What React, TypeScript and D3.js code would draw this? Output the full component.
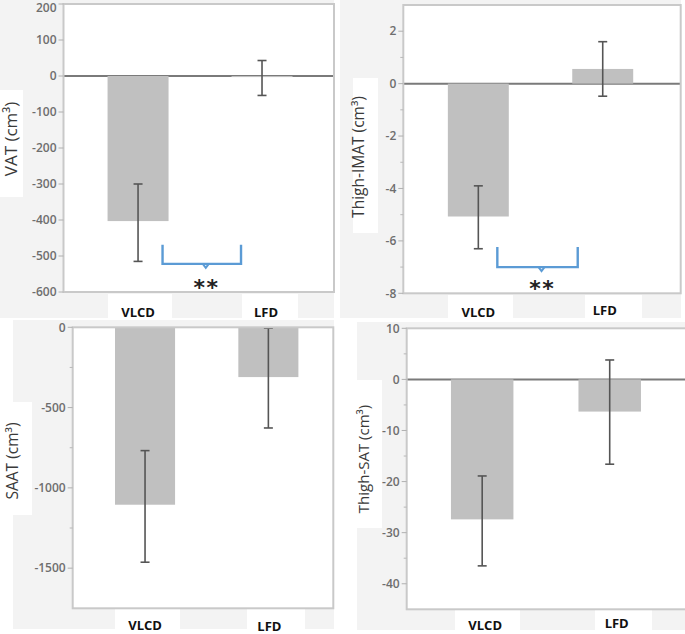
import React from "react";
import * as d3 from "d3";

const categories = ["VLCD", "LFD"];

const vatMean = [-403, -3];
const vatUpper = [-300, 43];
const vatLower = [-515, -54];
const vatTicks = [200, 100, 0, -100, -200, -300, -400, -500, -600];
const vatMinorTicks: number[] = [];

const imatMean = [-5.07, 0.56];
const imatUpper = [-3.9, 1.6];
const imatLower = [-6.3, -0.48];
const imatTicks = [2, 0, -2, -4, -6, -8];
const imatMinorTicks = [1, -1, -3, -5, -7];

const saatMean = [-1105, -310];
const saatUpper = [-768, -5];
const saatLower = [-1463, -627];
const saatTicks = [0, -500, -1000, -1500];
const saatMinorTicks = [-250, -750, -1250];

const tsatMean = [-27.4, -6.3];
const tsatUpper = [-18.9, 3.8];
const tsatLower = [-36.5, -16.6];
const tsatTicks = [10, 0, -10, -20, -30, -40];
const tsatMinorTicks = [5, -5, -15, -25, -35];

const sigLabel = "*";

type Box = { x: number; y: number; w: number; h: number };

interface PanelCfg {
  title: string;
  mean: number[];
  upper: number[];
  lower: number[];
  ticks: number[];
  minor: number[];
  domain: [number, number];
  bracket?: { top: number; bottom: number; dl: number; dr: number };
  L: {
    left: number; right: number; top: number; bottom: number;
    pi: number; po: number; align: number;
    titleX: number; titleY: number; titleSize: number;
    labelY: number[]; labelDx: number[];
    bg: Box; titleBox: Box; catBoxes: Box[];
  };
}

const panels: PanelCfg[] = [
  {
    title: "VAT (cm³)", mean: vatMean, upper: vatUpper, lower: vatLower,
    ticks: vatTicks, minor: vatMinorTicks, domain: [-600, 200],
    bracket: { top: -469, bottom: -522, dl: 24.5, dr: -21 },
    L: {
      left: 63.5, right: 334, top: 4, bottom: 292, pi: 0.508, po: 0.345, align: 0.515,
      titleX: 11.5, titleY: 139, titleSize: 17, labelY: [317, 317], labelDx: [0, 4],
      bg: { x: 0, y: 0, w: 334, h: 318 }, titleBox: { x: 0, y: 90, w: 23, h: 107 },
      catBoxes: [{ x: 108, y: 294, w: 64, h: 24 }, { x: 242, y: 294, w: 56, h: 24 }],
    },
  },
  {
    title: "Thigh-IMAT (cm³)", mean: imatMean, upper: imatUpper, lower: imatLower,
    ticks: imatTicks, minor: imatMinorTicks, domain: [-8, 3],
    bracket: { top: -6.23, bottom: -7.0, dl: 19, dr: -25 },
    L: {
      left: 403.3, right: 680.7, top: 5, bottom: 293.3, pi: 0.51, po: 0.37, align: 0.484,
      titleX: 359, titleY: 157, titleSize: 15.5, labelY: [317, 315], labelDx: [0, 2],
      bg: { x: 340, y: 0, w: 341, h: 318 }, titleBox: { x: 353, y: 78, w: 25, h: 155 },
      catBoxes: [{ x: 448, y: 295, w: 65, h: 23 }, { x: 585, y: 295, w: 57, h: 23 }],
    },
  },
  {
    title: "SAAT (cm³)", mean: saatMean, upper: saatUpper, lower: saatLower,
    ticks: saatTicks, minor: saatMinorTicks, domain: [-1750, 0],
    L: {
      left: 72.7, right: 333.3, top: 327.3, bottom: 608.3, pi: 0.513, po: 0.313, align: 0.548,
      titleX: 13, titleY: 461, titleSize: 15.5, labelY: [630, 631], labelDx: [0, 1],
      bg: { x: 13, y: 320, w: 321, h: 309 }, titleBox: { x: 0, y: 402, w: 32, h: 113 },
      catBoxes: [{ x: 115, y: 609, w: 65, h: 20 }, { x: 247, y: 609, w: 58, h: 20 }],
    },
  },
  {
    title: "Thigh-SAT (cm³)", mean: tsatMean, upper: tsatUpper, lower: tsatLower,
    ticks: tsatTicks, minor: tsatMinorTicks, domain: [-45, 10],
    L: {
      left: 406.7, right: 687, top: 328.3, bottom: 609.3, pi: 0.51, po: 0.354, align: 0.49,
      titleX: 363.5, titleY: 459, titleSize: 15, labelY: [630, 628], labelDx: [3, 7],
      bg: { x: 357, y: 322, w: 330, h: 308 }, titleBox: { x: 343, y: 380, w: 39, h: 148 },
      catBoxes: [{ x: 455, y: 610, w: 65, h: 20 }, { x: 595, y: 610, w: 57, h: 20 }],
    },
  },
];

const GRAY_BG = "#f3f3f3";
const FRAME = "#c9c9c9";
const BAR = "#c0c0c0";
const ERR = "#555555";
const ZERO = "#7a7a7a";
const BLUE = "#5b9bd5";
const TICK_TXT = "#6e6e6e";

function Panel({ p }: { p: PanelCfg }) {
  const L = p.L;
  const x = d3.scaleBand<string>()
    .domain(categories)
    .range([L.left, L.right])
    .paddingInner(L.pi)
    .paddingOuter(L.po)
    .align(L.align);
  const y = d3.scaleLinear().domain(p.domain).range([L.bottom, L.top]);
  const bw = x.bandwidth();
  const cx = (c: string) => (x(c) as number) + bw / 2;
  const capW = 9;

  let bracket: React.ReactNode = null;
  if (p.bracket) {
    const bl = cx(categories[0]) + p.bracket.dl;
    const br = cx(categories[1]) + p.bracket.dr;
    const yt = y(p.bracket.top);
    const yb = y(p.bracket.bottom);
    const mid = (bl + br) / 2 + 4;
    bracket = (
      <g>
        <path d={`M${bl},${yt}V${yb}H${br}V${yt}`} fill="none" stroke={BLUE} strokeWidth={2.4} />
        <path d={`M${mid - 3},${yb}L${mid},${yb + 4}L${mid + 3},${yb}`} fill="none" stroke={BLUE} strokeWidth={2} />
        {[-6.5, 6.5].map((d, i) => (
          <text key={i} x={mid + d} y={L.bottom + 2.5} textAnchor="middle" fontFamily="DejaVu Sans" fontWeight="bold" fontSize={22} fill="#222">
            {sigLabel}
          </text>
        ))}
      </g>
    );
  }

  return (
    <g>
      <rect x={L.bg.x} y={L.bg.y} width={L.bg.w} height={L.bg.h} fill={GRAY_BG} />
      <rect x={L.titleBox.x} y={L.titleBox.y} width={L.titleBox.w} height={L.titleBox.h} fill="#ffffff" />
      {L.catBoxes.map((b, i) => (
        <rect key={i} x={b.x} y={b.y} width={b.w} height={b.h} fill="#ffffff" />
      ))}
      <rect x={L.left} y={L.top} width={L.right - L.left} height={L.bottom - L.top} fill="#ffffff" />
      {p.domain[1] > 0 && (
        <line x1={L.left} x2={L.right} y1={y(0)} y2={y(0)} stroke={ZERO} strokeWidth={2} />
      )}
      {categories.map((c, i) => {
        const v = p.mean[i];
        const y0 = y(0);
        const y1 = y(v);
        return (
          <rect key={c} x={x(c)} y={Math.min(y0, y1)} width={bw} height={Math.max(1, Math.abs(y1 - y0))} fill={BAR} />
        );
      })}
      {categories.map((c, i) => {
        const xc = cx(c);
        const yu = y(p.upper[i]);
        const yl = y(p.lower[i]);
        return (
          <g key={c} stroke={ERR} strokeWidth={1.6}>
            <line x1={xc} x2={xc} y1={yu} y2={yl} />
            <line x1={xc - capW / 2} x2={xc + capW / 2} y1={yu} y2={yu} />
            <line x1={xc - capW / 2} x2={xc + capW / 2} y1={yl} y2={yl} />
          </g>
        );
      })}
      <rect x={L.left} y={L.top} width={L.right - L.left} height={L.bottom - L.top} fill="none" stroke={FRAME} strokeWidth={2} />
      {p.ticks.map((t) => (
        <g key={t}>
          <line x1={L.left - 5} x2={L.left} y1={y(t)} y2={y(t)} stroke="#b0b0b0" strokeWidth={1} />
          <text x={L.left - 7} y={Math.max(y(t), 8)} dy="0.35em" textAnchor="end" fontFamily="Open Sans" fontWeight={600} fontSize={12} fill={TICK_TXT}>
            {t}
          </text>
        </g>
      ))}
      {p.minor.map((t) => (
        <line key={t} x1={L.left - 3} x2={L.left} y1={y(t)} y2={y(t)} stroke="#b8b8b8" strokeWidth={1} />
      ))}
      <text
        transform={`translate(${L.titleX},${L.titleY}) rotate(-90)`}
        textAnchor="middle"
        dy="0.35em"
        fontFamily="Open Sans"
        fontSize={L.titleSize}
        fill="#3a3a3a"
      >
        {p.title}
      </text>
      {categories.map((c, i) => (
        <text key={c} x={cx(c) + L.labelDx[i]} y={L.labelY[i]} textAnchor="middle" fontFamily="Open Sans" fontWeight="bold" fontSize={13} fill="#111">
          {c}
        </text>
      ))}
      {bracket}
    </g>
  );
}

export default function App() {
  return (
    <svg width={685} height={634} style={{ position: "absolute", left: 0, top: 0, background: "#ffffff" }}>
      <rect x={0} y={0} width={685} height={634} fill="#ffffff" />
      {panels.map((p, i) => (
        <Panel key={i} p={p} />
      ))}
    </svg>
  );
}
